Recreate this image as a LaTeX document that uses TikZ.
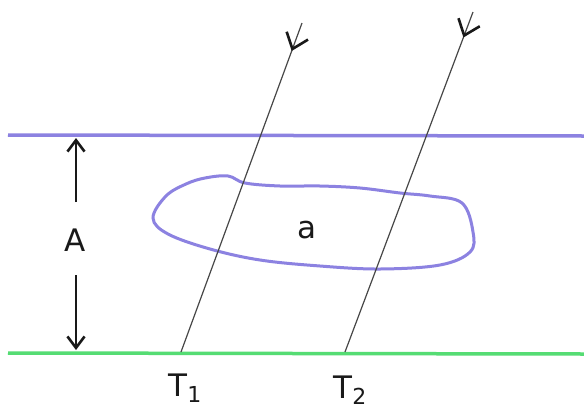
\documentclass[tikz,border=0pt]{standalone}
\usepackage{fontspec}
\setmainfont{DejaVu Sans}
\usetikzlibrary{arrows.meta,decorations.markings}
\definecolor{lav}{RGB}{140,130,225}
\definecolor{grn}{RGB}{85,220,115}
\definecolor{ink}{RGB}{25,25,25}
\newcommand{\lowsub}[1]{\raisebox{-0.35ex}{\fontsize{22}{24}\selectfont #1}}
\tikzset{
  ray/.style={draw=ink!80, line width=1.2pt},
  raymark/.style={postaction={decorate}, decoration={markings, mark=at position #1 with {\arrow[ink, line width=2.6pt]{Straight Barb[length=5mm, width=8mm]}}}},
  dimarrow/.style={draw=ink, line width=2.6pt, -{Straight Barb[length=4mm, width=6mm]}},
  lbl/.style={text=ink, font=\fontsize{31}{34}\selectfont},
  layer/.style={line width=3.5pt}
}
\begin{document}
\begin{tikzpicture}[x=1pt,y=-1pt]
\useasboundingbox (0,0) rectangle (584,413);
\fill[white] (0,0) rectangle (584,413);
% layer boundaries
\coordinate (pl) at (8,135); \coordinate (pr) at (584,136);
\coordinate (gl) at (8,353); \coordinate (gr) at (584,354);
\draw[layer, lav] (pl) -- (pr);
\draw[layer, grn] (gl) -- (gr);
% blob
\draw[lav, line width=3pt] plot[smooth cycle, tension=0.6] coordinates {
 (186,184) (166,196) (153,218) (168,234) (210,249) (260,260) (320,266)
 (380,269) (440,265) (470,252) (473,232) (462,203) (430,196) (400,193)
 (360,188) (320,186) (280,186) (245,183) (228,176) (205,178)};
\node[lbl] (a) at (307,230) {a};
% rays
\coordinate (r1t) at (302,23); \coordinate (T1p) at (181,352);
\coordinate (r2t) at (473,12); \coordinate (T2p) at (345,352);
\path[ray, raymark=0.085] (r1t) -- (T1p);
\path[ray, raymark=0.075] (r2t) -- (T2p);
% dimension A
\coordinate (au) at (76,202); \coordinate (aut) at (76,138);
\coordinate (ad) at (76,275); \coordinate (adt) at (76,350);
\draw[dimarrow] (au) -- (aut);
\draw[dimarrow] (ad) -- (adt);
\node[lbl] (A) at (75,240) {A};
% labels
\node[lbl] (T1) at (185,388) {T\lowsub{1}};
\node[lbl] (T2) at (350,390) {T\lowsub{2}};
\end{tikzpicture}
\end{document}
